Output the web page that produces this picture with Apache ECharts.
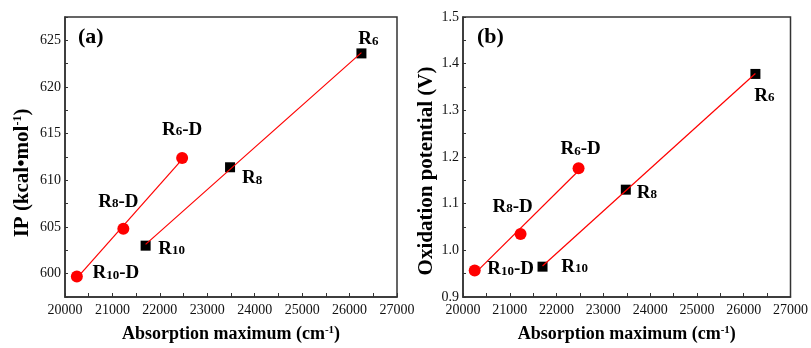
<!DOCTYPE html>
<html>
<head>
<meta charset="utf-8">
<script src="https://cdn.jsdelivr.net/npm/echarts@6/dist/echarts.min.js"></script>
<style>
  html, body { margin: 0; padding: 0; background: #fff; }
  #chart { width: 811px; height: 348px; }
</style>
</head>
<body>
<div id="chart"></div>
<script>
// absorption maximum (cm-1)
var absR = [21700, 23480, 26250];
var absRD = [20250, 21230, 22470];
// ionization potential (kcal/mol)
var ipR = [603.0, 611.4, 623.6];
var ipRD = [599.7, 604.8, 612.4];
// oxidation potential (V)
var oxR = [0.965, 1.130, 1.378];
var oxRD = [0.957, 1.035, 1.176];
// subscripts for the point labels
var subs = ["10", "8", "6"];

var serif = "Liberation Serif";
var lineRed = "#ff0000";

// label offsets from the point centre, in px
var offA_R = [[26, 3], [22, 11], [7, -14]];
var offA_RD = [[39, -3], [-5, -27], [0, -28]];
var offB_R = [[32, 0], [21, 3], [9, 22]];
var offB_RD = [[36, -1], [-8, -27], [2, -19]];

var labelRich = {
  b: { fontFamily: serif, fontWeight: "bold", fontSize: 19, color: "#000" },
  s: { fontFamily: serif, fontWeight: "bold", fontSize: 13, color: "#000", verticalAlign: "bottom", padding: [0, 0, 1, 0] }
};

function points(xs, ys, offs, suffix) {
  return xs.map(function (x, i) {
    return {
      value: [x, ys[i]],
      label: {
        show: true,
        position: "inside",
        offset: offs[i],
        formatter: "{b|R}{s|" + subs[i] + "}" + (suffix ? "{b|" + suffix + "}" : ""),
        rich: labelRich
      }
    };
  });
}

// least-squares fit, drawn between the first and last point
function fitLine(xs, ys) {
  var n = xs.length, sx = 0, sy = 0, sxx = 0, sxy = 0;
  for (var i = 0; i < n; i++) {
    sx += xs[i]; sy += ys[i]; sxx += xs[i] * xs[i]; sxy += xs[i] * ys[i];
  }
  var k = (n * sxy - sx * sy) / (n * sxx - sx * sx);
  var b = (sy - k * sx) / n;
  var x0 = Math.min.apply(null, xs), x1 = Math.max.apply(null, xs);
  return [[x0, k * x0 + b], [x1, k * x1 + b]];
}

function xAxisFor(gi) {
  return {
    gridIndex: gi,
    type: "value",
    min: 20000,
    max: 27000,
    interval: 1000,
    name: "{t|Absorption maximum (cm}{sup|-1}{t|)}",
    nameLocation: "middle",
    nameGap: 28,
    nameTextStyle: {
      rich: {
        t: { fontFamily: serif, fontWeight: "bold", fontSize: 18, color: "#000" },
        sup: { fontFamily: serif, fontWeight: "bold", fontSize: 11, color: "#000", verticalAlign: "top" }
      }
    },
    axisLine: { lineStyle: { color: "#333", width: 1.5 } },
    axisTick: { inside: true, length: 4, lineStyle: { color: "#333" } },
    minorTick: { show: true, splitNumber: 2, length: 4, lineStyle: { color: "#333" } },
    splitLine: { show: false },
    axisLabel: {
      fontFamily: serif, fontSize: 14, color: "#111", margin: 6,
      formatter: function (v) { return String(v); }
    }
  };
}

var chart = echarts.init(document.getElementById("chart"));

chart.setOption({
  animation: false,
  grid: [
    { left: 65, top: 17, width: 332, height: 280, show: true, borderColor: "#333", borderWidth: 1.5 },
    { left: 463, top: 17, width: 330, height: 280, show: true, borderColor: "#333", borderWidth: 1.5 }
  ],
  xAxis: [xAxisFor(0), xAxisFor(1)],
  yAxis: [
    {
      gridIndex: 0,
      type: "value",
      min: 597.5,
      max: 627.5,
      interval: 2.5,
      name: "{t|IP (kcal•mol}{sup|-1}{t|)}",
      nameLocation: "middle",
      nameGap: 32,
      nameTextStyle: {
        padding: [0, 32, 0, 0],
        rich: {
          t: { fontFamily: serif, fontWeight: "bold", fontSize: 21, color: "#000" },
          sup: { fontFamily: serif, fontWeight: "bold", fontSize: 12, color: "#000", verticalAlign: "top" }
        }
      },
      axisLine: { lineStyle: { color: "#333", width: 1.5 } },
      axisTick: { inside: true, length: 3, lineStyle: { color: "#333" } },
      splitLine: { show: false },
      axisLabel: {
        fontFamily: serif, fontSize: 14, color: "#111", margin: 4,
        formatter: function (v) { return v % 5 === 0 ? String(v) : ""; }
      }
    },
    {
      gridIndex: 1,
      type: "value",
      min: 0.9,
      max: 1.5,
      interval: 0.1,
      name: "Oxidation potential (V)",
      nameLocation: "middle",
      nameGap: 26,
      nameTextStyle: {
        fontFamily: serif, fontWeight: "bold", fontSize: 21, color: "#000",
        padding: [0, 28, 0, 0]
      },
      axisLine: { lineStyle: { color: "#333", width: 1.5 } },
      axisTick: { inside: true, length: 3, lineStyle: { color: "#333" } },
      minorTick: { show: true, splitNumber: 2, length: 3, lineStyle: { color: "#333" } },
      splitLine: { show: false },
      axisLabel: {
        fontFamily: serif, fontSize: 14, color: "#111", margin: 4,
        formatter: function (v) { return v.toFixed(1); }
      }
    }
  ],
  graphic: [
    { type: "text", left: 78, top: 26, style: { text: "(a)", font: "bold 22px 'Liberation Serif'", fill: "#000" } },
    { type: "text", left: 477, top: 26, style: { text: "(b)", font: "bold 22px 'Liberation Serif'", fill: "#000" } }
  ],
  series: [
    // panel (a)
    { type: "line", xAxisIndex: 0, yAxisIndex: 0, data: fitLine(absR, ipR), showSymbol: false, z: 3,
      lineStyle: { color: lineRed, width: 1.2 } },
    { type: "line", xAxisIndex: 0, yAxisIndex: 0, data: fitLine(absRD, ipRD), showSymbol: false, z: 3,
      lineStyle: { color: lineRed, width: 1.2 } },
    { type: "scatter", xAxisIndex: 0, yAxisIndex: 0, symbol: "rect", symbolSize: 10, z: 2,
      itemStyle: { color: "#000", opacity: 1 }, data: points(absR, ipR, offA_R, "") },
    { type: "scatter", xAxisIndex: 0, yAxisIndex: 0, symbol: "circle", symbolSize: 12, z: 4,
      itemStyle: { color: lineRed, opacity: 1 }, data: points(absRD, ipRD, offA_RD, "-D") },
    // panel (b)
    { type: "line", xAxisIndex: 1, yAxisIndex: 1, data: fitLine(absR, oxR), showSymbol: false, z: 3,
      lineStyle: { color: lineRed, width: 1.2 } },
    { type: "line", xAxisIndex: 1, yAxisIndex: 1, data: fitLine(absRD, oxRD), showSymbol: false, z: 3,
      lineStyle: { color: lineRed, width: 1.2 } },
    { type: "scatter", xAxisIndex: 1, yAxisIndex: 1, symbol: "rect", symbolSize: 10, z: 2,
      itemStyle: { color: "#000", opacity: 1 }, data: points(absR, oxR, offB_R, "") },
    { type: "scatter", xAxisIndex: 1, yAxisIndex: 1, symbol: "circle", symbolSize: 12, z: 4,
      itemStyle: { color: lineRed, opacity: 1 }, data: points(absRD, oxRD, offB_RD, "-D") }
  ]
});
</script>
</body>
</html>
